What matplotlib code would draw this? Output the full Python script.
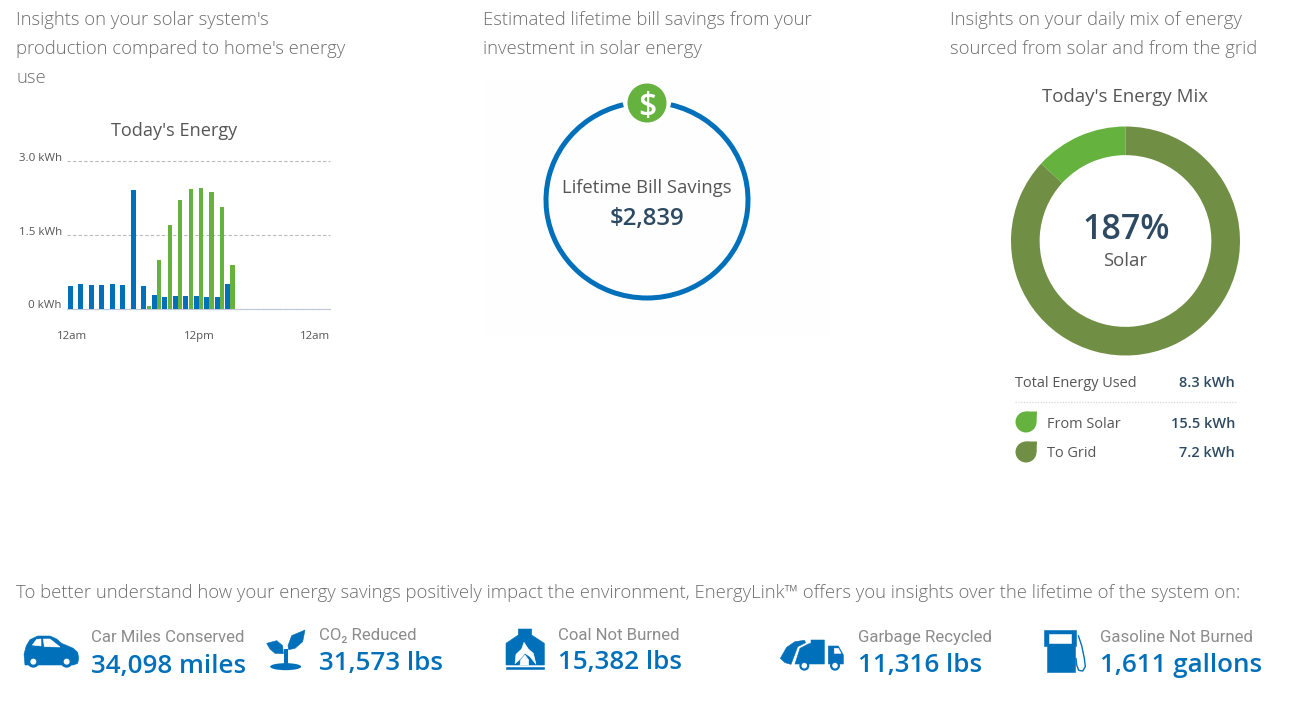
"""
Solar dashboard panels: energy bars, lifetime savings ring, energy mix donut, impact stats.
"""
import matplotlib
matplotlib.use("Agg")
import matplotlib.pyplot as plt
from matplotlib.patches import Arc, Circle, Ellipse, Polygon, Rectangle
from matplotlib.transforms import ScaledTranslation

WIDTH, HEIGHT = 1291, 705
DPI = 100

BLUE = "#0070BA"
GREEN = "#66B23F"
DARK_GREEN = "#708F45"
TEXT = "#6E6E6E"
DARK_TEXT = "#565656"
NAVY = "#2E4A62"
STAT_GREY = "#8C8C8C"

# Today's Energy bars, one per hour slot (kWh)
used_hours = list(range(16))
used_kwh = [0.455, 0.495, 0.475, 0.475, 0.495, 0.475, 2.42, 0.455,
            0.28, 0.24, 0.26, 0.26, 0.26, 0.24, 0.24, 0.495]
produced_hours = list(range(7, 16))
produced_kwh = [0.05, 0.98, 1.69, 2.20, 2.43, 2.46, 2.37, 2.07, 0.875]
y_ticks = [0, 1.5, 3.0]
y_tick_labels = ["0 kWh", "1.5 kWh", "3.0 kWh"]
x_tick_hours = [0.2, 12.3, 23.3]
x_tick_labels = ["12am", "12pm", "12am"]

# Energy mix donut, shares of the ring in percent
mix_labels = ["From Solar", "To Grid"]
mix_share = [13.2, 86.8]
mix_kwh = ["15.5 kWh", "7.2 kWh"]

stat_names = ["Car Miles Conserved", "CO\u2082 Reduced", "Coal Not Burned",
              "Garbage Recycled", "Gasoline Not Burned"]
stat_values = ["34,098 miles", "31,573 lbs", "15,382 lbs", "11,316 lbs", "1,611 gallons"]

intro_left = ["Insights on your solar system's", "production compared to home's energy", "use"]
intro_mid = ["Estimated lifetime bill savings from your", "investment in solar energy"]
intro_right = ["Insights on your daily mix of energy", "sourced from solar and from the grid"]
footer = ("To better understand how your energy savings positively impact the environment, "
          "EnergyLink\u2122 offers you insights over the lifetime of the system on:")


def px(size):
    """Font size in points for a size in pixels."""
    return size * 72 / DPI


def axes_at(fig, left, top, right, bottom):
    """Axes placed by pixel box, measured from the top left of the figure."""
    return fig.add_axes([left / WIDTH, 1 - bottom / HEIGHT,
                         (right - left) / WIDTH, (bottom - top) / HEIGHT])


def shape(ax, points, ox, oy, color=BLUE):
    """Filled icon polygon from 3x zoom coordinates."""
    scaled = [(ox + x / 3, oy + y / 3) for x, y in points]
    ax.add_patch(Polygon(scaled, closed=True, facecolor=color, edgecolor=color, linewidth=0.4))


def wheel(ax, x, y, outer, inner):
    ax.add_patch(Circle((x, y), outer, facecolor=BLUE, edgecolor="none"))
    ax.add_patch(Circle((x, y), inner, facecolor="white", edgecolor="none"))


def draw_icons(ax):
    # car
    ox, oy = 15, 625
    shape(ax, [(30, 120), (27, 88), (34, 62), (45, 44), (68, 33), (105, 33), (125, 42), (140, 55),
               (175, 70), (188, 82), (191, 100), (188, 115), (175, 120)], ox, oy)
    shape(ax, [(52, 60), (65, 43), (78, 42), (78, 63)], ox, oy, "white")
    shape(ax, [(85, 42), (105, 42), (135, 66), (88, 65)], ox, oy, "white")
    wheel(ax, ox + 55 / 3, oy + 110 / 3, 6, 3.0)
    wheel(ax, ox + 155 / 3, oy + 110 / 3, 6, 3.0)

    # plant
    ox, oy = 260, 625
    ax.add_patch(Ellipse((ox + 77 / 3, oy + 125 / 3), 31, 7, facecolor=BLUE, edgecolor="none"))
    ax.add_patch(Rectangle((ox + 73 / 3, oy + 72 / 3), 3.5, 18, facecolor=BLUE, edgecolor="none"))
    shape(ax, [(84, 62), (95, 32), (135, 15), (128, 50), (105, 70), (86, 74)], ox, oy)
    shape(ax, [(20, 55), (50, 47), (68, 62), (70, 86), (45, 85), (30, 72)], ox, oy)

    # furnace
    ox, oy = 500, 625
    shape(ax, [(55, 12), (95, 12), (95, 30), (133, 55), (133, 120), (18, 120),
               (18, 55), (55, 30)], ox, oy)
    shape(ax, [(72, 52), (85, 72), (100, 85), (108, 118), (90, 95), (75, 85),
               (58, 105), (45, 116), (48, 88), (65, 72)], ox, oy, "white")
    shape(ax, [(75, 90), (86, 105), (86, 120), (60, 120), (62, 105)], ox, oy, "white")
    shape(ax, [(18, 127), (133, 127), (133, 133), (18, 133)], ox, oy)

    # truck
    ox, oy = 775, 630
    shape(ax, [(16, 85), (35, 52), (60, 35), (88, 31), (92, 38), (68, 50), (48, 103), (30, 98)], ox, oy)
    shape(ax, [(108, 30), (148, 30), (148, 102), (60, 102), (75, 55), (100, 42), (108, 40)], ox, oy)
    shape(ax, [(160, 48), (190, 48), (205, 75), (205, 102), (160, 102)], ox, oy)
    shape(ax, [(178, 55), (190, 55), (198, 70), (178, 70)], ox, oy, "white")
    wheel(ax, ox + 88 / 3, oy + 107 / 3, 5, 2.8)
    wheel(ax, ox + 180 / 3, oy + 107 / 3, 5, 2.8)

    # fuel pump
    ox, oy = 1040, 625
    shape(ax, [(12, 15), (108, 15), (108, 62), (104, 62), (104, 142), (20, 142), (20, 62), (12, 62)], ox, oy)
    shape(ax, [(28, 28), (92, 28), (92, 55), (28, 55)], ox, oy, "white")
    hose = [(115, 32), (125, 62), (133, 100), (136, 125), (128, 138), (116, 136), (110, 120), (108, 100)]
    ax.plot([ox + x / 3 for x, _ in hose], [oy + y / 3 for _, y in hose],
            color=BLUE, linewidth=1.0, solid_capstyle="round")


def draw_text(ax):
    light = dict(family=["Open Sans", "DejaVu Sans"], fontweight=300, color=TEXT, fontsize=px(18.5))
    regular = dict(family=["Open Sans", "DejaVu Sans"], color=DARK_TEXT)
    semi = dict(family=["Open Sans", "DejaVu Sans"], fontweight=600, color=NAVY)

    for x, lines in zip([16, 483, 950], [intro_left, intro_mid, intro_right]):
        for i, line in enumerate(lines):
            ax.text(x, 25 + i * 29, line, va="baseline", **light)
    ax.text(16, 598, footer, va="baseline", **light)

    ax.text(174, 136, "Today's Energy", ha="center", va="baseline", fontsize=px(18.1), **regular)
    ax.text(1125, 102, "Today's Energy Mix", ha="center", va="baseline", fontsize=px(18.6), **regular)
    ax.text(647, 193, "Lifetime Bill Savings", ha="center", va="baseline", fontsize=px(18.5), **regular)
    ax.text(647, 225, "$2,839", ha="center", va="baseline", fontsize=px(24), **semi)
    ax.text(1126, 239, "187%", ha="center", va="baseline", fontsize=px(34), **semi)
    ax.text(1125, 266, "Solar", ha="center", va="baseline", fontsize=px(18.5), **regular)

    ax.text(1015, 387, "Total Energy Used", va="baseline", fontsize=px(14.5), **regular)
    ax.text(1235, 387, "8.3 kWh", ha="right", va="baseline", fontsize=px(14.5), **semi)
    for y, name, value in zip([428, 457], mix_labels, mix_kwh):
        ax.text(1047, y, name, va="baseline", fontsize=px(14.5), **regular)
        ax.text(1235, y, value, ha="right", va="baseline", fontsize=px(14.5), **semi)

    stat_x = [91, 319, 558, 858, 1100]
    name_y = [642, 640, 640, 642, 642]
    value_y = [673, 670, 669, 672, 672]
    for x, ny, vy, name, value in zip(stat_x, name_y, value_y, stat_names, stat_values):
        ax.text(x, ny, name, va="baseline", family=["Roboto", "DejaVu Sans"],
                fontsize=px(16.7), color=STAT_GREY)
        ax.text(x, vy, value, va="baseline", family=["Open Sans", "DejaVu Sans"],
                fontweight=600, fontsize=px(26), color=BLUE)


def draw_overlay(fig):
    ax = fig.add_axes([0, 0, 1, 1])
    ax.set_xlim(0, WIDTH)
    ax.set_ylim(HEIGHT, 0)
    ax.axis("off")

    ax.add_patch(Rectangle((485, 80), 345, 255, facecolor="#FEFEFE", edgecolor="none"))

    # savings ring with a gap at the top for the badge
    ax.add_patch(Arc((647, 200), 202, 196, theta1=284, theta2=256, color=BLUE, linewidth=3.6))
    ax.add_patch(Circle((647, 103), 19.5, facecolor=GREEN, edgecolor="none"))
    ax.text(647, 103, "$", ha="center", va="center_baseline", color="white", fontsize=px(32),
            family=["Open Sans", "DejaVu Sans"], fontweight=600)

    # legend leaves and separator
    ax.plot([1015, 1237], [402, 402], color="#DDDDDD", linewidth=1, linestyle=(0, (1, 1)))
    for y, color in zip([422, 452], [GREEN, DARK_GREEN]):
        ax.add_patch(Circle((1026, y), 10.5, facecolor=color, edgecolor="none"))
        ax.add_patch(Polygon([(1026, y - 10.5), (1037, y - 10.5), (1036.5, y)], closed=True,
                             facecolor=color, edgecolor="none"))

    draw_icons(ax)
    draw_text(ax)


def draw_bars(fig):
    ax = axes_at(fig, 67, 161, 330, 308.5)
    ax.bar([h + 0.48 for h in produced_hours], produced_kwh, width=0.42, color=GREEN, zorder=2)
    ax.bar(used_hours, used_kwh, width=0.46, color=BLUE, zorder=3)
    ax.set_xlim(-0.315, 24.76)
    ax.set_ylim(0, 3)
    ax.patch.set_alpha(0)
    ax.set_axisbelow(True)
    for spine in ["top", "left", "right"]:
        ax.spines[spine].set_visible(False)
    ax.spines["bottom"].set_color("#BFC8DA")
    ax.yaxis.grid(True, color="#B5BDB5", linestyle=(0, (3, 2)), linewidth=0.8, clip_on=False)
    ax.set_yticks(y_ticks, y_tick_labels, fontsize=px(11.5), color=DARK_TEXT,
                  family=["Open Sans", "DejaVu Sans"])
    ax.set_xticks(x_tick_hours, x_tick_labels, fontsize=px(11.5), color=DARK_TEXT,
                  family=["Open Sans", "DejaVu Sans"])
    ax.tick_params(axis="both", length=0)
    ax.tick_params(axis="y", pad=3.6)
    ax.tick_params(axis="x", pad=16.2)
    # y labels sit a little above their gridlines
    lift = ScaledTranslation(0, 4 / DPI, fig.dpi_scale_trans)
    for label in ax.get_yticklabels():
        label.set_transform(label.get_transform() + lift)


def draw_donut(fig):
    ax = axes_at(fig, 1011, 126.5, 1240, 355.5)
    ax.pie(mix_share, colors=[GREEN, DARK_GREEN], startangle=90,
           wedgeprops=dict(width=0.25, linewidth=0))
    ax.set_xlim(-1, 1)
    ax.set_ylim(-1, 1)


def main():
    fig = plt.figure(figsize=(WIDTH / DPI, HEIGHT / DPI), dpi=DPI, facecolor="white")
    draw_overlay(fig)
    draw_bars(fig)
    draw_donut(fig)
    fig.savefig("out.png", dpi=DPI)
    plt.close(fig)


if __name__ == "__main__":
    main()
